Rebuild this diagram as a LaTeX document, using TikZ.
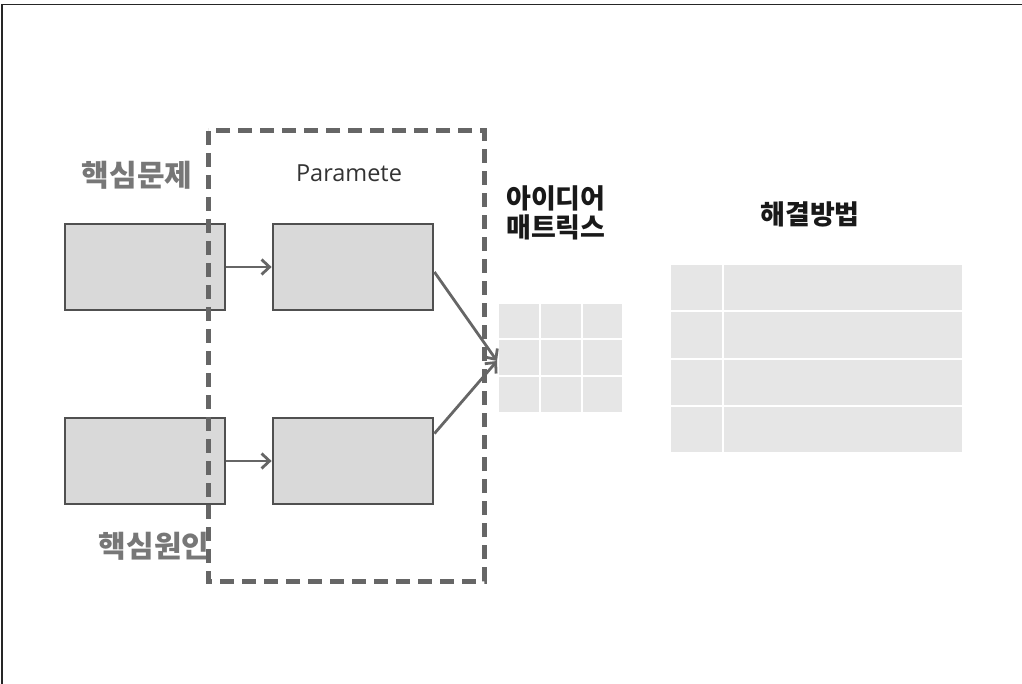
\documentclass[tikz,border=0pt]{standalone}
\usepackage{fontspec}
\newfontfamily\kr{Noto Sans CJK KR}
\newfontfamily\lat{Open Sans}
\usetikzlibrary{arrows.meta}
\definecolor{boxfill}{HTML}{D9D9D9}
\definecolor{boxline}{HTML}{505050}
\definecolor{cellfill}{HTML}{E6E6E6}
\definecolor{graytext}{HTML}{777777}
\definecolor{dashcol}{HTML}{666666}
\tikzset{
  blk/.style={draw=boxline, fill=boxfill, line width=2.8pt, minimum width=160pt, minimum height=86pt, inner sep=0pt},
  conn/.style={draw=dashcol, line width=2.8pt, -{Straight Barb[length=8pt,width=15pt,line width=2.8pt]}},
  cell/.style={fill=cellfill, draw=white, line width=2.5pt},
  krgray/.style={font=\kr\bfseries\fontsize{30}{34}\selectfont, text=graytext, inner sep=0pt},
  krblack/.style={font=\kr\bfseries\fontsize{27}{29}\selectfont, text=black!90, inner sep=0pt, align=left},
  frame/.style={draw=black!85, line width=1.8pt}
}
\begin{document}
\begin{tikzpicture}[x=1pt,y=-1pt]
\useasboundingbox (0,0) rectangle (1022,684);
% frame lines
\draw[frame] (2,684) -- (2,4.5) -- (1022,4.5);
% matrix cells
\foreach \xa/\xb in {498/540,540/582,582/623}{
  \foreach \ya/\yb in {303/339,339/376,376/413}{
    \path[cell] (\xa,\ya) rectangle (\xb,\yb);
  }
}
% solution table
\foreach \ya/\yb in {264/311,311/359,359/406,406/453}{
  \path[cell] (670,\ya) rectangle (723,\yb);
  \path[cell] (723,\ya) rectangle (963,\yb);
}
\coordinate (mtx) at (497,361);
% boxes
\node[blk] (p1) at (145,267) {};
\node[blk] (p2) at (145,461) {};
\node[blk] (q1) at (353,267) {};
\node[blk] (q2) at (353,461) {};
% labels under the dashed group
\node[krgray] (t1) at (137,175) {핵심문제};
\node[krgray] (t2) at (154,546) {핵심원인};
% dashed group
\draw[draw=dashcol, line width=5pt, dash pattern=on 14pt off 8pt] (208,131) rectangle (484,581);
% connectors
\draw[conn] (p1.east) -- (q1.west);
\draw[conn] (p2.east) -- (q2.west);
\draw[conn] ([yshift=-5pt]q1.east) -- (mtx);
\draw[conn] ([yshift=-17pt]q2.north east) -- (mtx);
% other labels
\node[font=\lat\fontsize{23.5}{26}\selectfont, text=black!80, inner sep=0pt] (t3) at (349,173) {Paramete};
\node[krblack, anchor=north west] (t4) at (506,185) {아이디어\\매트릭스};
\node[krblack] (t5) at (810,214) {해결방법};
\end{tikzpicture}
\end{document}
